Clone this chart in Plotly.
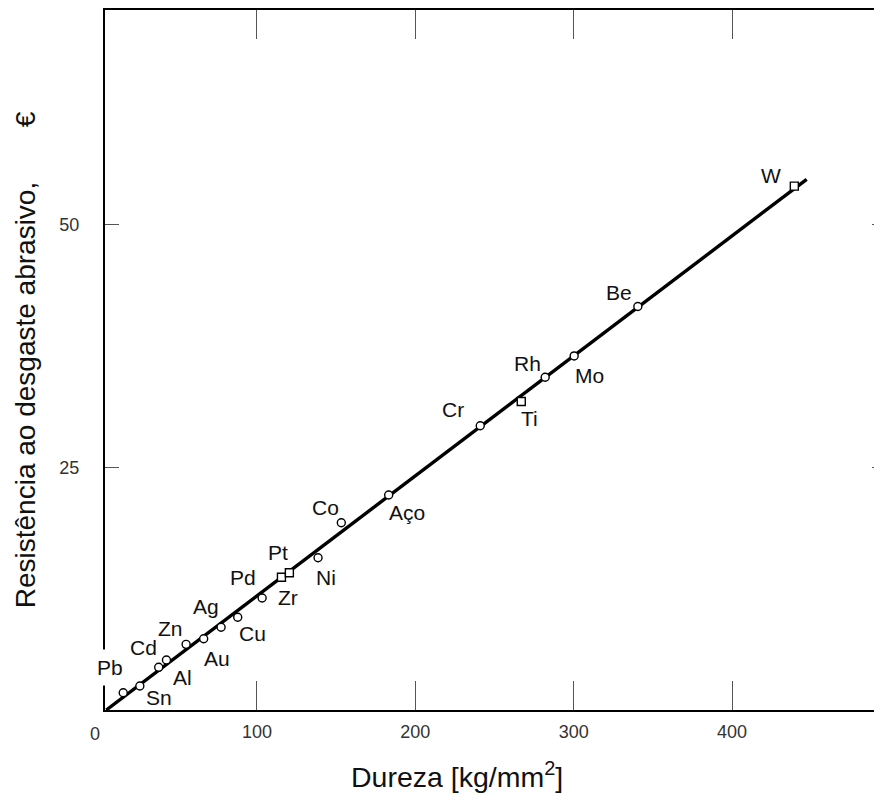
import plotly.graph_objects as go

# ---- data ----
metals = ["Pb", "Sn", "Cd", "Al", "Zn", "Au", "Ag", "Cu", "Pd", "Pt", "Zr", "Ni",
          "Co", "Aço", "Cr", "Ti", "Rh", "Mo", "Be", "W"]
hardness = [15.6, 26.1, 38.0, 42.9, 55.3, 66.4, 77.4, 87.9, 103.3, 115.5, 120.5, 138.6,
            153.3, 183.2, 241.0, 266.9, 282.0, 300.3, 340.5, 439.3]
resistance = [1.78, 2.47, 4.40, 5.15, 6.77, 7.35, 8.53, 9.56, 11.55, 13.68, 14.15, 15.7,
              19.3, 22.16, 29.3, 31.8, 34.3, 36.5, 41.6, 54.0]
square_metals = ["Pt", "Zr", "Ti", "W"]

fit_x = [4.9, 447.1]
fit_y = [0.0, 54.7]

x_ticks = [100, 200, 300, 400]
y_ticks = [25, 50]

# label offsets in screen pixels (dx right, dy down) relative to the marker
label_offsets = {
    "Pb": (-13, -25), "Sn": (19, 11), "Cd": (-15, -20), "Al": (16, 17),
    "Zn": (-16, -16), "Au": (13, 20), "Ag": (-15, -21), "Cu": (15, 16),
    "Pd": (-19, -20), "Pt": (-3, -25), "Zr": (-1, 25), "Ni": (8, 20),
    "Co": (-16, -15), "Aço": (18, 17), "Cr": (-27, -16), "Ti": (8, 17),
    "Rh": (-18, -14), "Mo": (15, 20), "Be": (-19, -14), "W": (-23, -11),
}

X_RANGE = [4.1, 499.7]
Y_RANGE = [0, 72.16]
FONT = "Liberation Sans, Arial, sans-serif"

W, H = 882, 800
ML, MR, MT, MB = 97, 0, 2, 98
plot_w = W - ML - MR
px_per_x = plot_w / (X_RANGE[1] - X_RANGE[0])

fig = go.Figure()

fig.add_trace(go.Scatter(x=fit_x, y=fit_y, mode="lines",
                         line=dict(color="black", width=3.4),
                         hoverinfo="skip", showlegend=False))

symbols = ["square" if m in square_metals else "circle" for m in metals]
fig.add_trace(go.Scatter(x=hardness, y=resistance, mode="markers",
                         marker=dict(symbol=symbols, size=8, color="white",
                                     line=dict(color="black", width=1.4)),
                         text=metals, showlegend=False, cliponaxis=False))

# invisible trace for right-side tick axis
fig.add_trace(go.Scatter(x=[X_RANGE[0]], y=[Y_RANGE[0]], yaxis="y2", mode="markers",
                         marker=dict(opacity=0), hoverinfo="skip", showlegend=False))

for m, xv, yv in zip(metals, hardness, resistance):
    dx, dy = label_offsets[m]
    kw = {}
    if m == "Pb":
        kw = dict(bgcolor="white", borderpad=6)
    fig.add_annotation(x=xv, y=yv, xref="x", yref="y", text=m, showarrow=False,
                       xshift=dx, yshift=-dy,
                       font=dict(family=FONT, size=21, color="#111"), **kw)

# "0" tick label on x (just left of the shown range)
fig.add_annotation(x=X_RANGE[0], y=0, xref="x", yref="paper", text="0", showarrow=False,
                   yanchor="top", yshift=-12,
                   xshift=-(X_RANGE[0] - 0) * px_per_x - 4,
                   font=dict(family=FONT, size=18, color="#333"))

# x-axis title
fig.add_annotation(x=(457 - 8 - ML) / plot_w, y=0, xref="paper", yref="paper",
                   yanchor="middle", yshift=-65, showarrow=False,
                   text="Dureza [kg/mm<sup>2</sup>]",
                   font=dict(family=FONT, size=28.5, color="#111"))

fig.update_layout(
    width=W, height=H,
    margin=dict(l=ML, r=MR, t=MT, b=MB),
    paper_bgcolor="white", plot_bgcolor="white",
    font=dict(family=FONT, color="#111"),
    xaxis=dict(range=X_RANGE, tickmode="array", tickvals=x_ticks,
               ticks="inside", ticklen=29, tickwidth=1, tickcolor="#555",
               showline=True, linecolor="black", linewidth=2, mirror="ticks",
               showgrid=False, zeroline=False, automargin=False,
               ticklabelstandoff=4,
               tickfont=dict(family=FONT, size=18, color="#333")),
    yaxis=dict(range=Y_RANGE, tickmode="array", tickvals=y_ticks,
               ticks="inside", ticklen=14, tickwidth=1, tickcolor="#555",
               showline=True, linecolor="black", linewidth=2,
               showgrid=False, zeroline=False, automargin=False,
               ticklabelstandoff=20,
               tickfont=dict(family=FONT, size=18, color="#333"),
               title=dict(text="Resistência ao desgaste abrasivo,"
                               "\u00a0\u00a0\u00a0\u00a0\u00a0\u00a0\u00a0€",
                          standoff=16,
                          font=dict(family=FONT, size=28, color="#111"))),
    yaxis2=dict(range=Y_RANGE, overlaying="y", side="right", tickmode="array",
                tickvals=y_ticks, ticks="inside", ticklen=18, tickwidth=1,
                tickcolor="#555", showticklabels=False, showline=False,
                showgrid=False, zeroline=False, automargin=False),
)

fig.write_html("out.html")
